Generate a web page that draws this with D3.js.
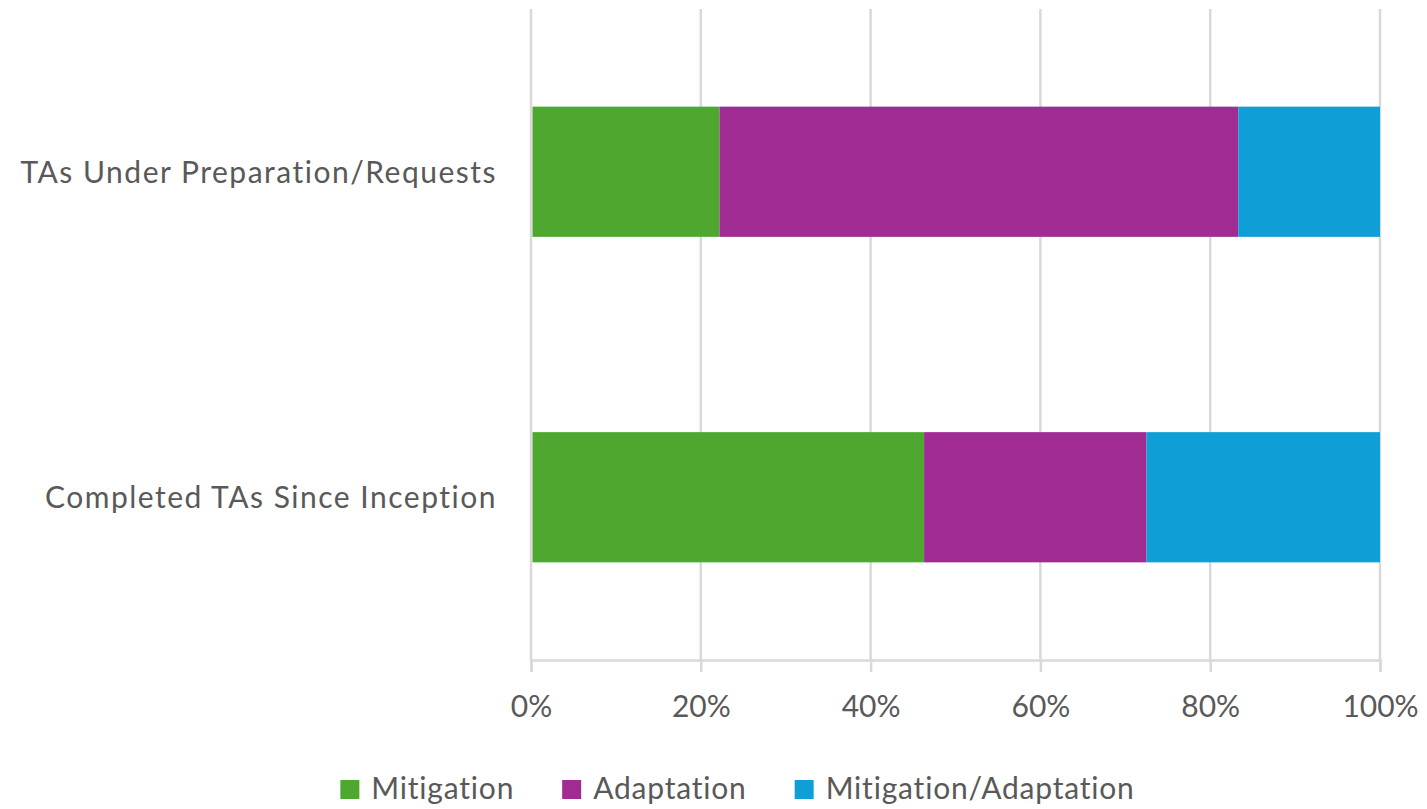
<!DOCTYPE html>
<html>
<head>
<meta charset="utf-8">
<script src="https://cdn.jsdelivr.net/npm/d3@7"></script>
<style>
  html, body { margin: 0; padding: 0; background: #fff; }
  svg { display: block; }
  text { font-family: Lato, "Open Sans", sans-serif; fill: #595959; }
</style>
</head>
<body>
<svg id="chart" width="1427" height="809"></svg>
<script>
// ---- Data ----
const categories = ["TAs Under Preparation/Requests", "Completed TAs Since Inception"];
const seriesNames = ["Mitigation", "Adaptation", "Mitigation/Adaptation"];
const mitigation = [22.2, 46.3];
const adaptation = [61.1, 26.2];
const mitigationAdaptation = [16.7, 27.5];
const tickValues = [0, 20, 40, 60, 80, 100];
const tickLabels = ["0%", "20%", "40%", "60%", "80%", "100%"];
const colors = ["#4EA72E", "#A02B93", "#0F9ED5"];

// ---- Layout ----
const W = 1427, H = 809;
const plot = { left: 531, right: 1380, top: 9, bottom: 660 };
const fontSize = 30;

const svg = d3.select("#chart");

const rows = categories.map((c, i) => ({
  category: c,
  "Mitigation": mitigation[i],
  "Adaptation": adaptation[i],
  "Mitigation/Adaptation": mitigationAdaptation[i]
}));
rows.forEach(r => {
  const t = seriesNames.reduce((s, k) => s + r[k], 0);
  seriesNames.forEach(k => r[k] = r[k] / t * 100);
});

const stacked = d3.stack().keys(seriesNames)(rows);

const x = d3.scaleLinear().domain([0, 100]).range([plot.left, plot.right]);
const slot = (plot.bottom - plot.top) / categories.length;
const barH = slot / 2.5;
const yCenter = c => plot.top + slot * (categories.indexOf(c) + 0.5);

// gridlines
svg.append("g")
  .selectAll("line")
  .data(tickValues)
  .join("line")
  .attr("x1", d => x(d)).attr("x2", d => x(d))
  .attr("y1", plot.top).attr("y2", plot.bottom)
  .attr("stroke", "#d9d9d9").attr("stroke-width", 2.5);

// bars
svg.append("g")
  .selectAll("g")
  .data(stacked)
  .join("g")
  .attr("fill", (d, i) => colors[i])
  .selectAll("rect")
  .data(d => d)
  .join("rect")
  .attr("x", d => x(d[0]) + (d[0] === 0 ? 1.5 : 0))
  .attr("width", d => x(d[1]) - x(d[0]) - (d[0] === 0 ? 1.5 : 0))
  .attr("y", d => yCenter(d.data.category) - barH / 2)
  .attr("height", barH);

// x axis
const xAxis = d3.axisBottom(x)
  .tickValues(tickValues)
  .tickFormat((d, i) => tickLabels[i])
  .tickSize(12)
  .tickPadding(24);
const gx = svg.append("g")
  .attr("transform", `translate(0,${plot.bottom})`)
  .call(xAxis);
gx.select(".domain").attr("stroke", "#d9d9d9").attr("stroke-width", 2.5);
gx.selectAll(".tick line").attr("stroke", "#d9d9d9").attr("stroke-width", 2.5);
gx.selectAll(".tick text")
  .attr("fill", "#595959")
  .style("font-size", fontSize + "px")
  .style("font-family", "Lato, 'Open Sans', sans-serif");

// category labels
svg.append("g")
  .selectAll("text")
  .data(categories)
  .join("text")
  .attr("x", 497)
  .attr("y", d => yCenter(d))
  .attr("dy", "0.36em")
  .attr("text-anchor", "end")
  .style("font-size", fontSize + "px")
  .style("letter-spacing", "1.5px")
  .text(d => d);

// legend
const legend = svg.append("g");
const items = legend.selectAll("g")
  .data(seriesNames)
  .join("g");
items.append("rect")
  .attr("width", 19).attr("height", 19)
  .attr("y", 780)
  .attr("fill", (d, i) => colors[i]);
items.append("text")
  .attr("x", 31)
  .attr("y", 799)
  .style("font-size", fontSize + "px")
  .style("letter-spacing", "0.8px")
  .text(d => d);
let cx = 0;
const positions = [];
const gap = 48;
items.each(function () {
  positions.push(cx);
  const w = this.querySelector("text").getComputedTextLength();
  cx += 31 + w + gap;
});
const totalW = cx - gap;
const startX = 737.5 - totalW / 2;
items.attr("transform", (d, i) => `translate(${startX + positions[i]},0)`);
</script>
</body>
</html>
